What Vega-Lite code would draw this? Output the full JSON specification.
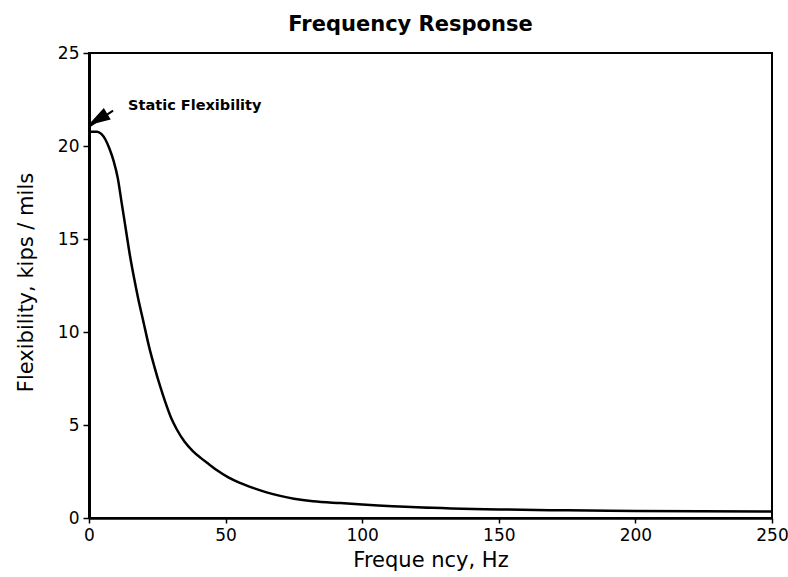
{
  "$schema": "https://vega.github.io/schema/vega-lite/v6.json",
  "width": 683,
  "height": 465,
  "autosize": {"type": "none"},
  "padding": {"left": 89, "top": 53, "right": 16, "bottom": 59},
  "background": "white",
  "config": {
    "font": "DejaVu Sans",
    "view": {"stroke": "black", "strokeWidth": 2},
    "axis": {"grid": false, "domainColor": "black", "tickColor": "black", "labelColor": "black", "titleColor": "black"}
  },
  "title": {
    "text": "Frequency Response",
    "anchor": "middle",
    "frame": "group",
    "dx": -20,
    "dy": 29,
    "offset": 17,
    "baseline": "bottom",
    "fontSize": 21,
    "fontWeight": "bold",
    "font": "DejaVu Sans",
    "color": "black"
  },
  "datasets": {
    "curve": [
      {"hz": 0, "flex": 20.77},
      {"hz": 3, "flex": 20.77},
      {"hz": 4.5, "flex": 20.65},
      {"hz": 6, "flex": 20.35},
      {"hz": 7.5, "flex": 19.85},
      {"hz": 9, "flex": 19.2},
      {"hz": 10.5, "flex": 18.3},
      {"hz": 12, "flex": 16.9},
      {"hz": 13.5, "flex": 15.5},
      {"hz": 15, "flex": 14.1},
      {"hz": 16.5, "flex": 12.9},
      {"hz": 18, "flex": 11.8},
      {"hz": 20, "flex": 10.5},
      {"hz": 22, "flex": 9.2},
      {"hz": 24, "flex": 8.1},
      {"hz": 26, "flex": 7.1},
      {"hz": 28, "flex": 6.2},
      {"hz": 30, "flex": 5.4},
      {"hz": 32, "flex": 4.8},
      {"hz": 35, "flex": 4.1},
      {"hz": 38, "flex": 3.6},
      {"hz": 41, "flex": 3.22},
      {"hz": 44, "flex": 2.88},
      {"hz": 47, "flex": 2.55},
      {"hz": 51, "flex": 2.18},
      {"hz": 55, "flex": 1.9},
      {"hz": 60, "flex": 1.62},
      {"hz": 65, "flex": 1.38},
      {"hz": 70, "flex": 1.19},
      {"hz": 75, "flex": 1.04},
      {"hz": 82, "flex": 0.9},
      {"hz": 92, "flex": 0.8},
      {"hz": 100, "flex": 0.73},
      {"hz": 120, "flex": 0.58},
      {"hz": 150, "flex": 0.46},
      {"hz": 175, "flex": 0.41},
      {"hz": 200, "flex": 0.38},
      {"hz": 250, "flex": 0.35}
    ],
    "arrow": [
      {"hz": 0.3, "flex": 21.07, "hz2": 8.8, "flex2": 21.9}
    ],
    "head": [
      {"hz": 3.18, "flex": 21.43}
    ],
    "label": [
      {"hz": 14.3, "flex": 21.94, "text": "Static Flexibility"}
    ]
  },
  "layer": [
    {
      "data": {"name": "curve"},
      "mark": {"type": "line", "color": "black", "strokeWidth": 2.5, "interpolate": "monotone"},
      "encoding": {
        "x": {
          "field": "hz", "type": "quantitative",
          "scale": {"domain": [0, 250], "nice": false, "zero": false},
          "axis": {
            "values": [0, 50, 100, 150, 200, 250],
            "title": "Freque ncy, Hz",
            "titleFontSize": 21,
            "titleFontWeight": "normal",
            "titleBaseline": "alphabetic",
            "titleY": 48,
            "labelFontSize": 17,
            "labelPadding": 4,
            "tickSize": 5,
            "tickWidth": 1.5,
            "domainWidth": 2.5,
            "labelFlush": false
          }
        },
        "y": {
          "field": "flex", "type": "quantitative",
          "scale": {"domain": [0, 25], "nice": false},
          "axis": {
            "values": [0, 5, 10, 15, 20, 25],
            "title": "Flexibility, kips / mils",
            "titleFontSize": 21,
            "titleFontWeight": "normal",
            "titleBaseline": "alphabetic",
            "titleX": -57,
            "titleY": 229,
            "labelFontSize": 17,
            "labelPadding": 4,
            "tickSize": 6,
            "tickWidth": 1.5,
            "domainWidth": 3,
            "labelFlush": false
          }
        }
      }
    },
    {
      "data": {"name": "arrow"},
      "mark": {"type": "rule", "color": "black", "strokeWidth": 2},
      "encoding": {
        "x": {"field": "hz", "type": "quantitative"},
        "y": {"field": "flex", "type": "quantitative"},
        "x2": {"field": "hz2"},
        "y2": {"field": "flex2"}
      }
    },
    {
      "data": {"name": "head"},
      "mark": {"type": "point", "shape": "M0,-1L0.6,1L-0.6,1Z", "filled": true, "color": "black", "opacity": 1, "size": 500, "angle": 239},
      "encoding": {
        "x": {"field": "hz", "type": "quantitative"},
        "y": {"field": "flex", "type": "quantitative"}
      }
    },
    {
      "data": {"name": "label"},
      "mark": {"type": "text", "align": "left", "baseline": "alphabetic", "fontSize": 14.5, "fontWeight": "bold", "font": "DejaVu Sans", "color": "black"},
      "encoding": {
        "x": {"field": "hz", "type": "quantitative"},
        "y": {"field": "flex", "type": "quantitative"},
        "text": {"field": "text"}
      }
    }
  ]
}
